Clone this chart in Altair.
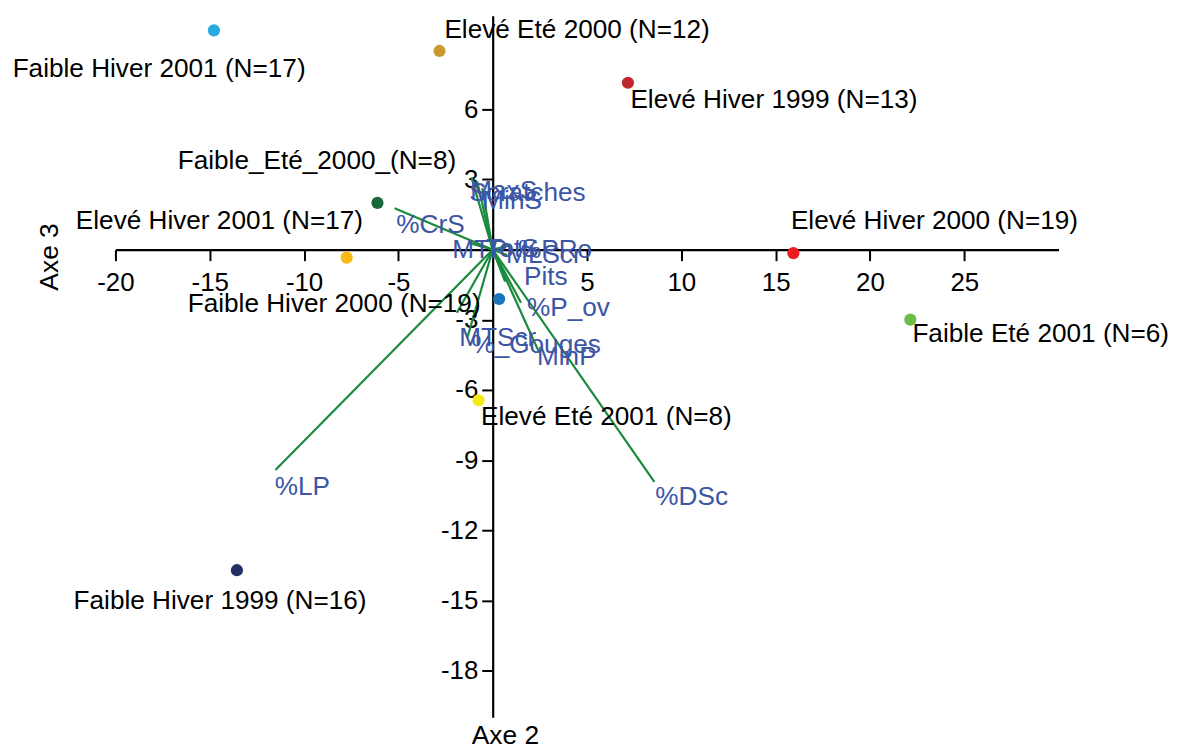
import altair as alt
import pandas as pd

# ---- observations (groups) ----
grp_labels = ["Faible Hiver 2001 (N=17)", "Elevé Eté 2000 (N=12)", "Elevé Hiver 1999 (N=13)",
              "Faible_Eté_2000_(N=8)", "Elevé Hiver 2001 (N=17)", "Elevé Hiver 2000 (N=19)",
              "Faible Hiver 2000 (N=19)", "Faible Eté 2001 (N=6)", "Elevé Eté 2001 (N=8)",
              "Faible Hiver 1999 (N=16)"]
grp_x = [-14.78, -2.82, 7.17, -6.11, -7.74, 15.94, 0.34, 22.14, -0.75, -13.56]
grp_y = [9.38, 8.50, 7.14, 2.00, -0.34, -0.15, -2.11, -2.99, -6.44, -13.71]
grp_colors = ["#29abe2", "#c99a2e", "#c1272d", "#17693a", "#fbb917", "#ed1c24",
              "#1b75bc", "#6abd45", "#f4ea14", "#262f63"]
grp_label_x = [-25.45, -2.56, 7.30, -16.70, -22.10, 15.81, -16.17, 22.25, -0.62, -22.22]
grp_label_y = [7.38, 9.06, 6.04, 3.43, 0.87, 0.87, -2.65, -3.96, -7.50, -15.37]

# ---- variables (vectors) ----
var_names = ["%LP", "%DSc", "%CrS", "Scratches", "MaxS", "MinS", "MTP", "%PRo", "MLScr",
             "TotS", "Pits", "%P_ov", "MinP", "%_Gouges", "MTScr"]
var_x = [-11.52, 8.57, -5.20, -1.13, -0.82, -0.55, -1.24, 0.98, 0.76,
         0.18, 0.66, 1.50, 2.45, -1.34, -1.90]
var_y = [-9.42, -9.93, 1.77, 3.09, 2.92, 2.63, 0.29, 0.20, -0.23,
         0.37, -1.37, -2.27, -4.37, -3.76, -2.70]
var_label_x = [-11.56, 8.62, -5.11, -1.24, -1.19, -0.55, -2.14, 1.34, 0.71,
               -0.34, 1.66, 1.82, 2.35, -1.13, -1.77]
var_label_y = [-10.48, -10.91, 0.72, 2.10, 2.16, 1.74, -0.34, -0.35, -0.57,
               -0.31, -1.50, -2.82, -4.95, -4.44, -4.10]

x_ticks = [-20, -15, -10, -5, 5, 10, 15, 20, 25]
y_ticks = [6, 3, -3, -6, -9, -12, -15, -18]
X_DOMAIN = [-20, 30]
Y_DOMAIN = [-20, 10]

W, H = 948, 705
FONT = "Liberation Sans"
LINE_GREEN = "#1a8a3c"
VAR_BLUE = "#3c55a5"
LABEL_SIZE = 26.3


def sx(v):
    return (v - X_DOMAIN[0]) / (X_DOMAIN[1] - X_DOMAIN[0]) * W


def sy(v):
    return (Y_DOMAIN[1] - v) / (Y_DOMAIN[1] - Y_DOMAIN[0]) * H


grp_df = pd.DataFrame({"label": grp_labels, "x": grp_x, "y": grp_y,
                       "lx": grp_label_x, "ly": grp_label_y})
var_df = pd.DataFrame({"name": var_names, "ox": [0.0] * len(var_names), "oy": [0.0] * len(var_names),
                       "x": var_x, "y": var_y, "lx": var_label_x, "ly": var_label_y})

xs = alt.Scale(domain=X_DOMAIN, nice=False, zero=False)
ys = alt.Scale(domain=Y_DOMAIN, nice=False, zero=False)

common_axis = dict(grid=False, labelFont=FONT, labelFontSize=26, labelColor="black",
                   domainColor="black", domainWidth=2.2, tickColor="black", tickWidth=2,
                   tickSize=11, labelFlush=False, labelOverlap=False,
                   labelExpr="datum.value + ''", titleFont=FONT, titleFontSize=26.5,
                   titleFontWeight="normal", titleColor="black")

x_axis = alt.Axis(values=x_ticks, orient="bottom", offset=sy(0) - H, labelPadding=9,
                  title="Axe 2", titleX=391.5, titleY=496, titleAlign="center",
                  titleBaseline="alphabetic", **common_axis)
y_axis = alt.Axis(values=y_ticks, orient="left", offset=-sx(0), labelPadding=4,
                  title="Axe 3", titleAngle=270, titleX=-437.7, titleY=241.8,
                  titleAlign="center", titleBaseline="alphabetic", **common_axis)

vectors = alt.Chart(var_df).mark_rule(color=LINE_GREEN, strokeWidth=2.2).encode(
    x=alt.X("ox:Q", scale=xs, axis=x_axis),
    y=alt.Y("oy:Q", scale=ys, axis=y_axis),
    x2="x:Q", y2="y:Q",
)

points = alt.Chart(grp_df).mark_circle(size=150, opacity=1).encode(
    x=alt.X("x:Q", scale=xs, axis=x_axis),
    y=alt.Y("y:Q", scale=ys, axis=y_axis),
    color=alt.Color("label:N", scale=alt.Scale(domain=grp_labels, range=grp_colors), legend=None),
)

grp_text = alt.Chart(grp_df).mark_text(align="left", baseline="alphabetic", font=FONT,
                                       fontSize=LABEL_SIZE, color="black").encode(
    x=alt.X("lx:Q", scale=xs, axis=x_axis),
    y=alt.Y("ly:Q", scale=ys, axis=y_axis),
    text="label:N",
)

var_text = alt.Chart(var_df).mark_text(align="left", baseline="alphabetic", font=FONT,
                                       fontSize=LABEL_SIZE, color=VAR_BLUE).encode(
    x=alt.X("lx:Q", scale=xs, axis=x_axis),
    y=alt.Y("ly:Q", scale=ys, axis=y_axis),
    text="name:N",
)

chart = alt.layer(vectors, points, grp_text, var_text).properties(
    width=W, height=H,
    autosize=alt.AutoSizeParams(type="none"),
    padding={"left": 108, "top": 6, "right": 112, "bottom": 30},
).configure(background="white", view=alt.ViewConfig(stroke="transparent", strokeWidth=0))

chart.save("out.html", embed_options={"renderer": "svg", "actions": False})
